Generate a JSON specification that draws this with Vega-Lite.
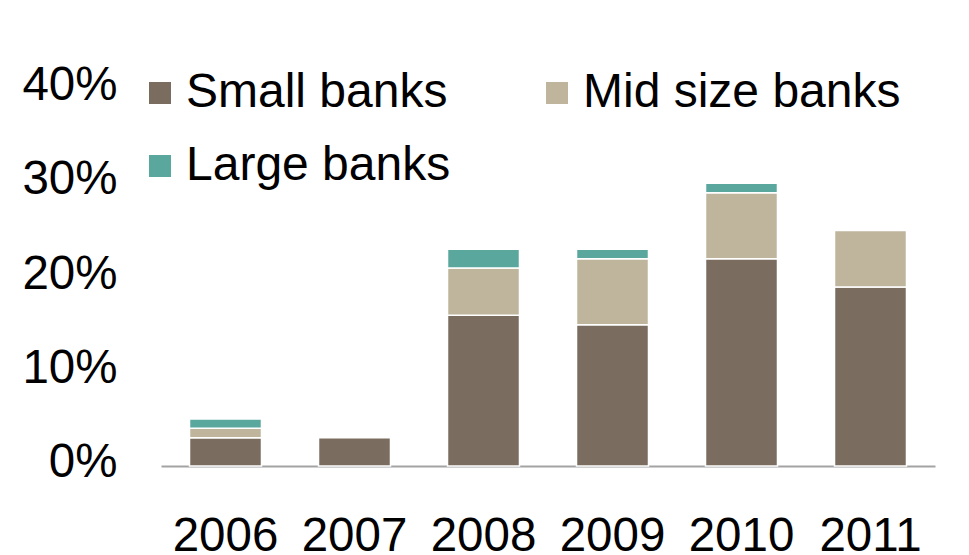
{
  "$schema": "https://vega.github.io/schema/vega-lite/v6.json",
  "autosize": "none",
  "width": 774,
  "height": 377,
  "padding": {"left": 161, "top": 89, "right": 34, "bottom": 89},
  "background": "white",
  "data": {
    "values": [
      {"year": "2006", "group": "Small banks", "order": 1, "value": 3},
      {"year": "2006", "group": "Mid size banks", "order": 2, "value": 1},
      {"year": "2006", "group": "Large banks", "order": 3, "value": 1},
      {"year": "2007", "group": "Small banks", "order": 1, "value": 3},
      {"year": "2008", "group": "Small banks", "order": 1, "value": 16},
      {"year": "2008", "group": "Mid size banks", "order": 2, "value": 5},
      {"year": "2008", "group": "Large banks", "order": 3, "value": 2},
      {"year": "2009", "group": "Small banks", "order": 1, "value": 15},
      {"year": "2009", "group": "Mid size banks", "order": 2, "value": 7},
      {"year": "2009", "group": "Large banks", "order": 3, "value": 1},
      {"year": "2010", "group": "Small banks", "order": 1, "value": 22},
      {"year": "2010", "group": "Mid size banks", "order": 2, "value": 7},
      {"year": "2010", "group": "Large banks", "order": 3, "value": 1},
      {"year": "2011", "group": "Small banks", "order": 1, "value": 19},
      {"year": "2011", "group": "Mid size banks", "order": 2, "value": 6}
    ]
  },
  "mark": {"type": "bar", "stroke": "white", "strokeWidth": 1.5},
  "encoding": {
    "x": {
      "field": "year",
      "type": "ordinal",
      "scale": {"paddingInner": 0.442, "paddingOuter": 0.221},
      "axis": {
        "title": null,
        "labelAngle": 0,
        "labelFont": "Liberation Sans",
        "labelFontSize": 47.5,
        "labelColor": "black",
        "labelPadding": 46,
        "ticks": false,
        "domainColor": "#a3a3a3",
        "domainWidth": 2
      }
    },
    "y": {
      "field": "value",
      "type": "quantitative",
      "stack": "zero",
      "scale": {"domain": [0, 40], "nice": false},
      "axis": {
        "title": null,
        "values": [0, 10, 20, 30, 40],
        "labelExpr": "datum.value + '%'",
        "labelFont": "Liberation Sans",
        "labelFontSize": 47.5,
        "labelColor": "black",
        "labelPadding": 44,
        "labelOffset": -3.5,
        "ticks": false,
        "domain": false,
        "grid": false
      }
    },
    "color": {
      "field": "group",
      "type": "nominal",
      "scale": {
        "domain": ["Small banks", "Mid size banks", "Large banks"],
        "range": ["#7a6c5e", "#bfb59c", "#5aa89d"]
      },
      "legend": {
        "title": null,
        "orient": "none",
        "legendX": -25,
        "legendY": -20,
        "direction": "horizontal",
        "columns": 2,
        "columnPadding": 82,
        "rowPadding": 25,
        "padding": 0,
        "symbolType": "square",
        "symbolSize": 484,
        "symbolStrokeWidth": 0,
        "labelFont": "Liberation Sans",
        "labelFontSize": 48,
        "labelColor": "black",
        "labelOffset": 2,
        "labelLimit": 400
      }
    },
    "order": {"field": "order", "type": "quantitative"}
  },
  "config": {"view": {"stroke": null}}
}
